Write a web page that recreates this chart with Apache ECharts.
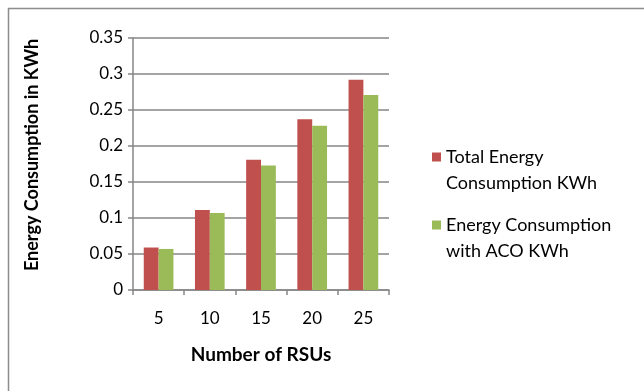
<!DOCTYPE html>
<html>
<head>
<meta charset="utf-8">
<script src="https://cdn.jsdelivr.net/npm/echarts@6/dist/echarts.min.js"></script>
<style>
  html, body { margin: 0; padding: 0; background: #fff; }
  #main { width: 644px; height: 391px; }
</style>
</head>
<body>
<div id="main"></div>
<script>
// number of RSUs on the x axis
const rsuCounts = ['5', '10', '15', '20', '25'];
// energy values (KWh)
const totalEnergy = [0.059, 0.111, 0.181, 0.237, 0.292];
const acoEnergy = [0.057, 0.107, 0.173, 0.228, 0.271];
const seriesNames = ['Total Energy\nConsumption KWh', 'Energy Consumption\nwith ACO KWh'];

const font = 'Lato, Calibri, sans-serif';
const gridGray = '#868686';

// one legend per entry so each icon sits next to the first text line
function legendFor(name, top) {
  return {
    orient: 'vertical',
    left: 432,
    top: top,
    padding: 0,
    itemWidth: 9,
    itemHeight: 9,
    icon: 'rect',
    // leading blank line keeps the icon level with the first line
    formatter: n => '\n' + n,
    textStyle: { fontSize: 18, lineHeight: 26, fontFamily: font, color: '#000' },
    data: [name]
  };
}

let chart = echarts.init(document.getElementById('main'));
chart.setOption({
  animation: false,
  backgroundColor: '#fff',
  textStyle: { fontFamily: font, color: '#000' },
  graphic: [{
    type: 'rect',
    shape: { x: 8.5, y: 8.5, width: 700, height: 500 },
    style: { fill: 'none', stroke: '#8c8c8c', lineWidth: 1.5 },
    silent: true
  }],
  grid: { left: 133, top: 38, right: 255, bottom: 101 },
  legend: [legendFor(seriesNames[0], 118), legendFor(seriesNames[1], 186)],
  xAxis: {
    type: 'category',
    data: rsuCounts,
    name: 'Number of RSUs',
    nameLocation: 'middle',
    nameGap: 55,
    nameTextStyle: { fontSize: 19, fontWeight: 'bold', fontFamily: font, color: '#000' },
    axisLine: { lineStyle: { color: gridGray, width: 1.5 } },
    axisTick: { show: true, length: 5, lineStyle: { color: gridGray, width: 1.5 } },
    axisLabel: { fontSize: 17, margin: 20, color: '#000', fontFamily: font }
  },
  yAxis: {
    type: 'value',
    min: 0,
    max: 0.35,
    interval: 0.05,
    name: 'Energy Consumption in KWh',
    nameLocation: 'middle',
    nameGap: 92,
    nameTextStyle: { fontSize: 18, fontWeight: 'bold', fontFamily: font, color: '#000', padding: [0, 0, 0, 18] },
    axisLine: { show: true, lineStyle: { color: gridGray, width: 1.5 } },
    axisTick: { show: true, length: 5, lineStyle: { color: gridGray, width: 1.5 } },
    axisLabel: { fontSize: 17, margin: 10, color: '#000', fontFamily: font },
    splitLine: { lineStyle: { color: gridGray, width: 1.5 } }
  },
  series: [
    {
      name: seriesNames[0],
      type: 'bar',
      data: totalEnergy,
      barGap: '0%',
      barCategoryGap: '42%',
      itemStyle: { color: '#C0504D' }
    },
    {
      name: seriesNames[1],
      type: 'bar',
      data: acoEnergy,
      itemStyle: { color: '#9BBB59' }
    }
  ]
});
</script>
</body>
</html>
